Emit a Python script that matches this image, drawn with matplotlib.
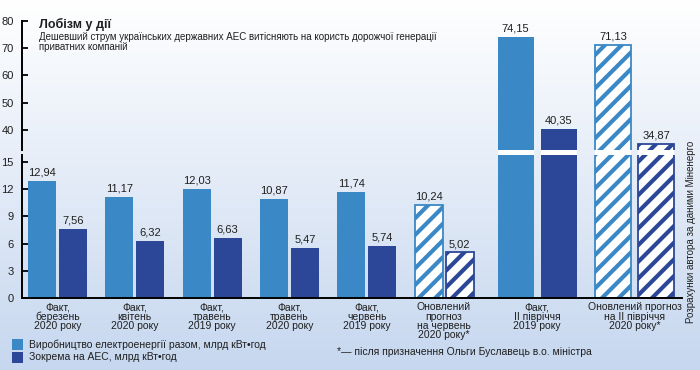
import numpy as np
import matplotlib
matplotlib.use('Agg')
import matplotlib.pyplot as plt
from matplotlib.patches import Rectangle
import matplotlib.transforms as mtransforms

# ---------------- data ----------------
categories = [
    "Факт,\nберезень\n2020 року",
    "Факт,\nквітень\n2020 року",
    "Факт,\nтравень\n2019 року",
    "Факт,\nтравень\n2020 року",
    "Факт,\nчервень\n2019 року",
    "Оновлений\nпрогноз\nна червень\n2020 року*",
    "Факт,\nII півріччя\n2019 року",
    "Оновлений прогноз\nна II півріччя\n2020 року*",
]
total_output = [12.94, 11.17, 12.03, 10.87, 11.74, 10.24, 74.15, 71.13]
nuclear_output = [7.56, 6.32, 6.63, 5.47, 5.74, 5.02, 40.35, 34.87]
is_forecast = [False, False, False, False, False, True, False, True]
is_halfyear = [False, False, False, False, False, False, True, True]
lower_ticks = [0, 3, 6, 9, 12, 15]
upper_ticks = [40, 50, 60, 70, 80]
series_names = ["Виробництво електроенергії разом, млрд кВт•год",
                "Зокрема на АЕС, млрд кВт•год"]
title = "Лобізм у дії"
subtitle = ("Дешевший струм українських державних АЕС витісняють на користь дорожчої генерації\n"
            "приватних компаній")
footnote = "*— після призначення Ольги Буславець в.о. міністра"
source = "Розрахунки автора за даними Міненерго"

# ---------------- style ----------------
FONT = ['Liberation Sans', 'DejaVu Sans']
plt.rcParams['font.family'] = FONT
plt.rcParams['hatch.linewidth'] = 3.0
LIGHT = '#3b88c6'
DARK = '#2c4797'
TXT = '#1f1f1f'

W, H = 700, 370
fig = plt.figure(figsize=(7, 3.7), dpi=100)

# gradient background
bg = fig.add_axes([0, 0, 1, 1], zorder=-10)
grad = np.linspace(0, 1, 256)[:, None]
top = np.array([1.0, 1.0, 1.0])
bot = np.array([198, 215, 239]) / 255
img = top[None, None, :] * (1 - grad[..., None]) + bot[None, None, :] * grad[..., None]
img = np.repeat(img, 2, axis=1)
bg.imshow(img, aspect='auto', extent=[0, 1, 0, 1], origin='upper')
bg.set_axis_off()

def fx(px):
    return px / W

def fy(py):
    return 1 - py / H

left_px, right_px = 22, 682
low_top, low_bot = 155, 298
up_top, up_bot = 21, 150

ax_low = fig.add_axes([fx(left_px), fy(low_bot), fx(right_px - left_px), (low_bot - low_top) / H])
ax_up = fig.add_axes([fx(left_px), fy(up_bot), fx(right_px - left_px), (up_bot - up_top) / H])
for a in (ax_low, ax_up):
    a.set_facecolor('none')
    a.set_xlim(0, right_px - left_px)
    a.spines['right'].set_visible(False)
    a.spines['top'].set_visible(False)
    a.spines['left'].set_linewidth(1.4)
    a.tick_params(axis='y', direction='in', length=4, width=1.3, labelsize=8,
                  labelcolor=TXT, pad=6)
ax_up.spines['bottom'].set_visible(False)
ax_low.spines['bottom'].set_linewidth(1.4)
ax_low.set_ylim(0, 15.77)
ax_up.set_ylim(32.65, 80)
ax_low.set_yticks(lower_ticks)
ax_up.set_yticks(upper_ticks)
ax_up.set_xticks([])

# layout of the groups (pixel-like units along x)
small_w, small_gap, pitch, first_c = 28, 3, 77.3, 35.5
big_w, big_gap = 36, 7
big_centers = [515, 612.5]
centers, widths, gaps = [], [], []
bi = 0
for i in range(len(categories)):
    if is_halfyear[i]:
        centers.append(big_centers[bi]); bi += 1
        widths.append(big_w); gaps.append(big_gap)
    else:
        centers.append(first_c + pitch * i)
        widths.append(small_w); gaps.append(small_gap)
centers = np.array(centers)
widths = np.array(widths)
gaps = np.array(gaps)
x_light = centers - gaps / 2 - widths / 2
x_dark = centers + gaps / 2 + widths / 2

def fmt(v):
    return f"{v:.2f}".replace('.', ',')

blend = mtransforms.blended_transform_factory(ax_low.transData, fig.transFigure)
for ax in (ax_low, ax_up):
    ymin, ymax = ax.get_ylim()
    for xs, vals, col in ((x_light, total_output, LIGHT), (x_dark, nuclear_output, DARK)):
        for x, v, w, fc in zip(xs, vals, widths, is_forecast):
            if fc:
                ax.bar(x, v, width=w, color='white', edgecolor=col, hatch='//',
                       linewidth=1.3, zorder=2)
            else:
                ax.bar(x, v, width=w, color=col, linewidth=0, zorder=2)
            if ymin < v <= ymax:
                ax.annotate(fmt(v), (x, v), xytext=(0, 2.5), textcoords='offset points',
                            ha='center', va='bottom', fontsize=8, color=TXT)

# white break through the tall bars
for xs in (x_light, x_dark):
    for x, w, hy in zip(xs, widths, is_halfyear):
        if hy:
            fig.add_artist(Rectangle((x - w / 2, fy(low_top)), w, fy(up_bot) - fy(low_top),
                                     transform=blend, facecolor='white', edgecolor='none',
                                     zorder=5))

ax_low.set_xticks(centers)
ax_low.set_xticklabels(categories, fontsize=7.5, color=TXT, linespacing=0.92)
ax_low.tick_params(axis='x', length=0, pad=3)

# titles
fig.text(fx(39), fy(28), title, fontsize=9, fontweight='bold', color=TXT, va='baseline')
fig.text(fx(39), fy(32), subtitle, fontsize=7, color=TXT, va='top', linespacing=0.95)

# legend
for k, (name, col) in enumerate(zip(series_names, (LIGHT, DARK))):
    y0 = 339 + k * 13
    fig.add_artist(Rectangle((fx(12), fy(y0 + 11)), fx(11), 11 / H, transform=fig.transFigure,
                             facecolor=col, edgecolor='none'))
    fig.text(fx(29), fy(y0 + 5.5), name, fontsize=7.5, color=TXT, va='center')

fig.text(fx(337), fy(352), footnote, fontsize=7.5, color=TXT, va='center')
fig.text(fx(691), fy(232), source, fontsize=7, color=TXT, rotation=90,
         ha='center', va='center')

fig.savefig('out.png', dpi=100)
